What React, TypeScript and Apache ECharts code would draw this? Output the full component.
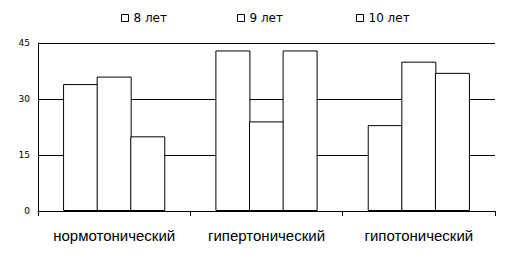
import React, { useEffect, useRef } from "react";
import * as echarts from "echarts";

const categories = ["нормотонический", "гипертонический", "гипотонический"];
const seriesNames = ["8 лет", "9 лет", "10 лет"];
const age8 = [34, 43, 23];
const age9 = [36, 24, 40];
const age10 = [20, 43, 37];
const yTicks = [0, 15, 30, 45];

export default function App() {
  const ref = useRef<HTMLDivElement>(null);
  useEffect(() => {
    if (!ref.current) return;
    const chart = echarts.init(ref.current, null, { renderer: "svg" });
    const values = [age8, age9, age10];
    const legendLefts = [121, 237, 356];
    chart.setOption({
      animation: false,
      backgroundColor: "#ffffff",
      textStyle: { fontFamily: "DejaVu Sans" },
      legend: seriesNames.map((n, i) => ({
        data: [n],
        left: legendLefts[i],
        top: 12,
        icon: "rect",
        itemWidth: 7,
        itemHeight: 7,
        itemGap: 4,
        itemStyle: { color: "#ffffff", borderColor: "#000000", borderWidth: 1 },
        textStyle: { fontSize: 12, color: "#000", fontFamily: "DejaVu Sans" },
        padding: 0,
      })),
      grid: { left: 38, right: 15, top: 43, bottom: 52, containLabel: false },
      xAxis: {
        type: "category",
        data: categories,
        axisLine: { lineStyle: { color: "#000", width: 1 } },
        axisTick: { show: true, length: 5, lineStyle: { color: "#000" } },
        axisLabel: { interval: 0, color: "#000", fontSize: 15, fontFamily: "Liberation Sans", margin: 17 },
      },
      yAxis: {
        type: "value",
        min: yTicks[0],
        max: yTicks[yTicks.length - 1],
        interval: 15,
        axisLine: { show: true, lineStyle: { color: "#000", width: 1 } },
        axisTick: { show: false },
        axisLabel: { color: "#000", fontSize: 9, fontFamily: "DejaVu Sans", margin: 8 },
        splitLine: { show: true, lineStyle: { color: "#000", width: 1 } },
      },
      series: seriesNames.map((n, i) => ({
        name: n,
        type: "bar",
        data: values[i],
        barWidth: 35,
        barGap: "-4%",
        itemStyle: { color: "#ffffff", borderColor: "#000000", borderWidth: 1 },
      })),
    });
    return () => chart.dispose();
  }, []);
  return (
    <div
      ref={ref}
      style={{ position: "fixed", left: 0, top: 0, width: 510, height: 263 }}
    />
  );
}
